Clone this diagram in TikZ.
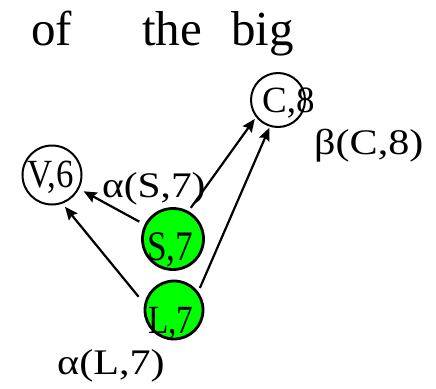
\documentclass[tikz,border=0pt]{standalone}
\usepackage{fontspec}
\setmainfont{Liberation Serif}
\usetikzlibrary{arrows.meta}
\definecolor{brightgreen}{RGB}{0,255,0}
\tikzset{
  plain/.style={circle,draw=black,line width=2pt,inner sep=0pt},
  green/.style={circle,draw=black,fill=brightgreen,line width=2.8pt,inner sep=0pt},
  txt/.style={inner sep=0pt,anchor=base west},
  arr/.style={line width=2.2pt,-{Stealth[length=13pt,width=11pt,inset=2pt]}}
}
\newcommand{\sx}[2]{\scalebox{#1}[1]{#2}}
\begin{document}
\begin{tikzpicture}[x=1pt,y=-1pt]
\useasboundingbox (0,0) rectangle (436,388);
% title
\node[txt,font=\fontsize{49}{52}\selectfont] (t1) at (31,45) {of};
\node[txt,font=\fontsize{49}{52}\selectfont] (t2) at (142,45) {the\hspace{29pt}big};
% circles
\node[plain,minimum size=54pt] (C) at (278,100) {};
\node[plain,minimum size=59pt] (V) at (52,175) {};
\node[green,minimum size=61pt] (S) at (173,239) {};
\node[green,minimum size=58pt] (L) at (174,310) {};
% circle texts
\node[txt,font=\fontsize{37}{40}\selectfont] (Ct) at (262,112) {C,8};
\node[txt,font=\fontsize{40}{44}\selectfont] (Vt) at (27,187) {\sx{0.87}{V,6}};
\node[txt,font=\fontsize{42}{46}\selectfont] (St) at (147,260) {\sx{0.84}{S,7}};
\node[txt,font=\fontsize{40}{44}\selectfont] (Lt) at (148,333) {\sx{0.83}{L,7}};
% labels
\node[txt,font=\fontsize{36}{40}\selectfont] (aS) at (102,197) {\sx{1.15}{α(S,7)}};
\node[txt,font=\fontsize{36}{40}\selectfont] (bC) at (314,154) {\sx{1.17}{β(C,8)}};
\node[txt,font=\fontsize{36}{40}\selectfont] (aL) at (57,374) {\sx{1.17}{α(L,7)}};
% arrows
\draw[arr,shorten <=6pt,shorten >=5pt] (S.153) -- (V.-27);
\draw[arr,shorten <=9pt,shorten >=4pt] (L.168) -- (V.-70);
\draw[arr,shorten <=4pt,shorten >=2pt] (S.61) -- (C.218);
\draw[arr,shorten <=4pt,shorten >=1pt] (L.37.6) -- (C.253.5);
\end{tikzpicture}
\end{document}
